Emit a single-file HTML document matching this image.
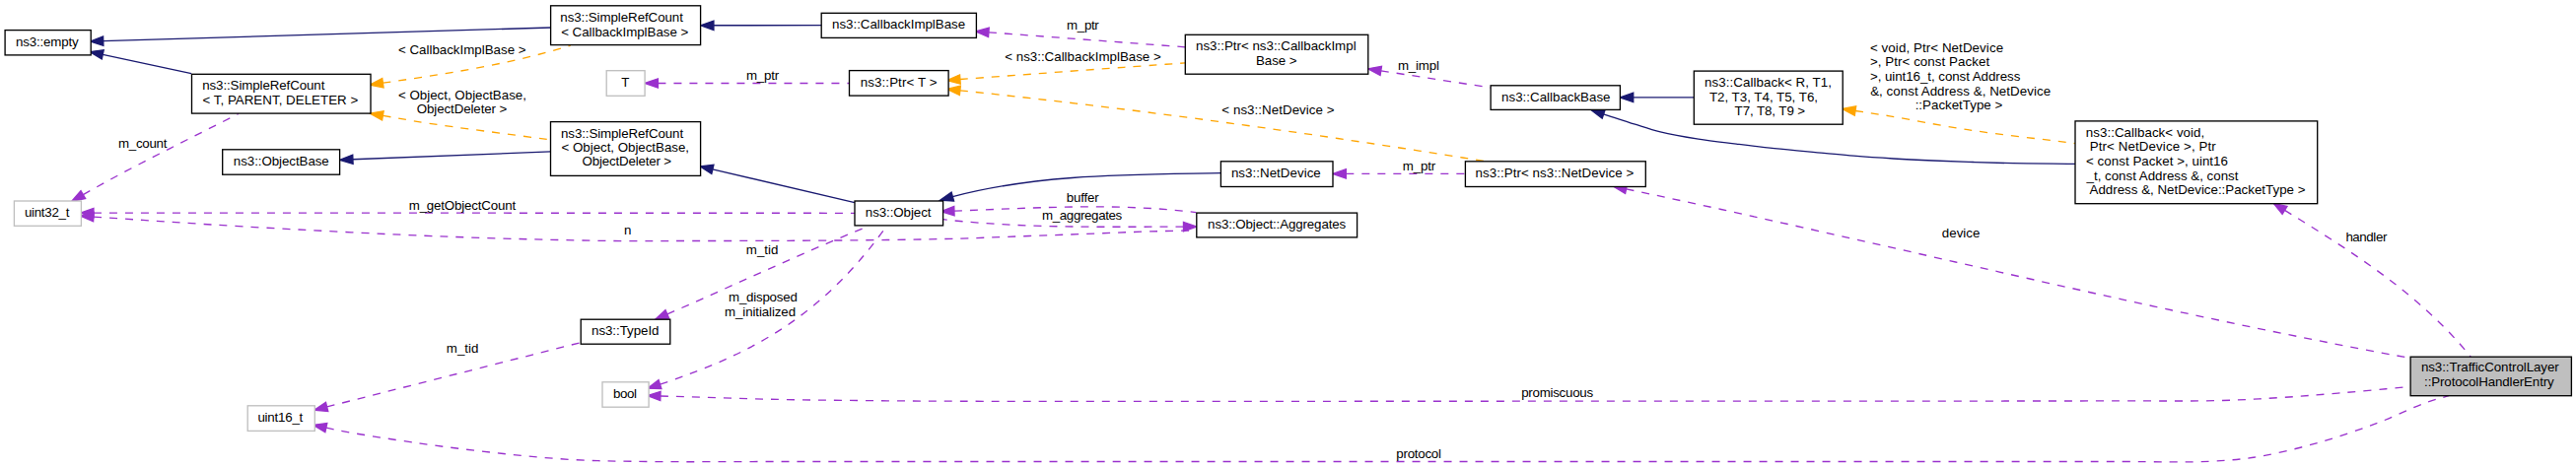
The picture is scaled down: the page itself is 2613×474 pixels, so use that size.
<!DOCTYPE html>
<html><head><meta charset="utf-8"><style>
html,body{margin:0;padding:0;background:#fff;}
svg{display:block;}
text{font-family:"Liberation Sans",sans-serif;font-size:13.333px;fill:#000;white-space:pre;}
</style></head><body>
<svg width="2613" height="474" viewBox="0 0 2613 474">
<rect x="0" y="0" width="2613" height="474" fill="#fff"/>
<path d="M104.73,41.60 L558.60,28.00" fill="none" stroke="#191970" stroke-width="1.333"/>
<polygon points="91.40,42.00 104.59,36.94 104.87,46.27" fill="#191970" stroke="#191970" stroke-width="1.333"/>
<path d="M104.24,55.39 L194.10,74.60" fill="none" stroke="#191970" stroke-width="1.333"/>
<polygon points="91.20,52.60 105.21,50.82 103.26,59.95" fill="#191970" stroke="#191970" stroke-width="1.333"/>
<path d="M723.93,25.78 L833.20,25.60" fill="none" stroke="#191970" stroke-width="1.333"/>
<polygon points="710.60,25.80 723.93,21.11 723.94,30.45" fill="#191970" stroke="#191970" stroke-width="1.333"/>
<path d="M357.92,161.78 L558.50,153.90" fill="none" stroke="#191970" stroke-width="1.333"/>
<polygon points="344.60,162.30 357.74,157.11 358.11,166.44" fill="#191970" stroke="#191970" stroke-width="1.333"/>
<path d="M722.88,171.85 L867.00,205.70" fill="none" stroke="#191970" stroke-width="1.333"/>
<polygon points="709.90,168.80 723.95,167.31 721.81,176.39" fill="#191970" stroke="#191970" stroke-width="1.333"/>
<path d="M966.35,199.63 C1054.88,176.29 1147.58,177.38 1238.40,175.70" fill="none" stroke="#191970" stroke-width="1.333"/>
<polygon points="953.50,203.20 965.10,195.13 967.60,204.13" fill="#191970" stroke="#191970" stroke-width="1.333"/>
<path d="M1656.73,98.90 L1718.30,98.90" fill="none" stroke="#191970" stroke-width="1.333"/>
<polygon points="1643.40,98.90 1656.73,94.23 1656.73,103.57" fill="#191970" stroke="#191970" stroke-width="1.333"/>
<path d="M1626.67,115.76 C1637.28,119.24 1648.44,123.04 1658.50,126.20 C1667.51,129.03 1674.70,131.58 1684.20,133.90 C1695.70,136.70 1709.91,139.16 1722.80,141.20 C1735.61,143.22 1748.45,144.53 1761.30,146.10 C1774.15,147.67 1786.19,149.16 1799.90,150.60 C1815.50,152.24 1835.39,153.92 1850.00,155.30 C1861.36,156.38 1869.47,157.31 1880.30,158.20 C1892.79,159.23 1907.24,160.20 1920.70,161.00 C1934.14,161.80 1947.56,162.42 1961.00,163.00 C1974.46,163.58 1987.93,164.05 2001.40,164.50 C2014.87,164.95 2028.34,165.42 2041.80,165.70 C2055.24,165.98 2070.55,166.08 2082.10,166.20 C2090.80,166.29 2097.37,166.33 2105.00,166.40" fill="none" stroke="#191970" stroke-width="1.333"/>
<polygon points="1614.00,111.60 1628.12,111.32 1625.21,120.19" fill="#191970" stroke="#191970" stroke-width="1.333"/>
<path d="M388.40,84.20 C452.46,74.97 516.69,65.40 578.70,46.20" fill="none" stroke="#ffa500" stroke-width="1.333" stroke-dasharray="8,8"/>
<polygon points="375.20,86.10 387.73,79.58 389.06,88.82" fill="#ffa500" stroke="#ffa500" stroke-width="1.333"/>
<path d="M388.35,117.33 C403.43,119.89 414.74,122.13 433.60,125.00 C464.86,129.76 516.87,136.27 558.50,141.90" fill="none" stroke="#ffa500" stroke-width="1.333" stroke-dasharray="8,8"/>
<polygon points="375.20,115.10 389.13,112.73 387.57,121.93" fill="#ffa500" stroke="#ffa500" stroke-width="1.333"/>
<path d="M973.90,80.52 C1029.26,76.45 1097.94,71.33 1140.00,68.30 C1165.76,66.44 1181.53,65.37 1202.30,63.90" fill="none" stroke="#ffa500" stroke-width="1.333" stroke-dasharray="8,8"/>
<polygon points="960.60,81.50 973.55,75.87 974.24,85.18" fill="#ffa500" stroke="#ffa500" stroke-width="1.333"/>
<path d="M973.86,91.79 C1152.08,110.63 1330.04,135.01 1506.90,163.80" fill="none" stroke="#ffa500" stroke-width="1.333" stroke-dasharray="8,8"/>
<polygon points="960.60,90.40 974.35,87.15 973.37,96.43" fill="#ffa500" stroke="#ffa500" stroke-width="1.333"/>
<path d="M1881.98,112.50 C1893.59,114.27 1902.86,115.52 1916.80,117.80 C1937.87,121.25 1967.44,127.39 1996.00,131.70 C2029.38,136.74 2068.67,140.90 2105.00,145.50" fill="none" stroke="#ffa500" stroke-width="1.333" stroke-dasharray="8,8"/>
<polygon points="1868.80,110.50 1882.68,107.89 1881.28,117.12" fill="#ffa500" stroke="#ffa500" stroke-width="1.333"/>
<path d="M1002.90,32.80 L1202.30,47.80" fill="none" stroke="#9a32cd" stroke-width="1.333" stroke-dasharray="8,8"/>
<polygon points="989.60,31.80 1003.25,28.15 1002.55,37.45" fill="#9a32cd" stroke="#9a32cd" stroke-width="1.333"/>
<path d="M667.43,84.50 L861.50,84.50" fill="none" stroke="#9a32cd" stroke-width="1.333" stroke-dasharray="8,8"/>
<polygon points="654.10,84.50 667.43,79.83 667.43,89.17" fill="#9a32cd" stroke="#9a32cd" stroke-width="1.333"/>
<path d="M1400.78,71.83 L1512.10,89.00" fill="none" stroke="#9a32cd" stroke-width="1.333" stroke-dasharray="8,8"/>
<polygon points="1387.60,69.80 1401.49,67.22 1400.07,76.44" fill="#9a32cd" stroke="#9a32cd" stroke-width="1.333"/>
<path d="M84.33,197.61 C135.75,168.14 189.29,142.42 242.00,115.40" fill="none" stroke="#9a32cd" stroke-width="1.333" stroke-dasharray="8,8"/>
<polygon points="72.80,204.30 81.99,193.57 86.67,201.64" fill="#9a32cd" stroke="#9a32cd" stroke-width="1.333"/>
<path d="M94.93,216.10 L867.00,216.30" fill="none" stroke="#9a32cd" stroke-width="1.333" stroke-dasharray="8,8"/>
<polygon points="81.60,216.10 94.93,211.44 94.93,220.77" fill="#9a32cd" stroke="#9a32cd" stroke-width="1.333"/>
<path d="M94.91,220.06 C146.07,223.37 193.44,226.86 248.40,230.00 C312.10,233.64 389.81,237.75 454.80,240.20 C512.92,242.39 574.80,243.91 620.00,244.50 C651.45,244.91 671.85,244.53 700.00,244.50 C731.48,244.47 766.67,244.47 800.00,244.30 C833.33,244.13 869.03,243.91 900.00,243.50 C926.88,243.14 953.13,242.73 975.30,242.10 C992.84,241.60 1006.69,240.88 1022.40,240.30 C1038.12,239.72 1053.88,239.18 1069.60,238.60 C1085.31,238.02 1101.00,237.40 1116.70,236.80 C1132.40,236.20 1147.86,235.50 1163.80,235.00 C1180.22,234.49 1197.13,234.20 1213.80,233.80" fill="none" stroke="#9a32cd" stroke-width="1.333" stroke-dasharray="8,8"/>
<polygon points="81.60,219.20 95.21,215.40 94.60,224.72" fill="#9a32cd" stroke="#9a32cd" stroke-width="1.333"/>
<path d="M1365.33,176.40 L1486.40,176.40" fill="none" stroke="#9a32cd" stroke-width="1.333" stroke-dasharray="8,8"/>
<polygon points="1352.00,176.40 1365.33,171.73 1365.33,181.07" fill="#9a32cd" stroke="#9a32cd" stroke-width="1.333"/>
<path d="M967.92,214.13 C1049.99,211.06 1131.25,205.60 1213.30,215.60" fill="none" stroke="#9a32cd" stroke-width="1.333" stroke-dasharray="8,8"/>
<polygon points="954.60,214.60 967.76,209.46 968.09,218.79" fill="#9a32cd" stroke="#9a32cd" stroke-width="1.333"/>
<path d="M1200.47,230.10 C1119.43,230.18 1037.07,231.80 956.60,222.70" fill="none" stroke="#9a32cd" stroke-width="1.333" stroke-dasharray="8,8"/>
<polygon points="1213.80,230.10 1200.47,234.76 1200.47,225.43" fill="#9a32cd" stroke="#9a32cd" stroke-width="1.333"/>
<path d="M1649.55,191.83 C1914.74,247.44 2178.63,314.88 2445.00,363.50" fill="none" stroke="#9a32cd" stroke-width="1.333" stroke-dasharray="8,8"/>
<polygon points="1636.50,189.10 1650.51,187.26 1648.60,196.40" fill="#9a32cd" stroke="#9a32cd" stroke-width="1.333"/>
<path d="M2317.55,213.40 C2385.84,255.54 2455.00,298.71 2506.20,362.20" fill="none" stroke="#9a32cd" stroke-width="1.333" stroke-dasharray="8,8"/>
<polygon points="2306.20,206.40 2320.00,209.43 2315.10,217.37" fill="#9a32cd" stroke="#9a32cd" stroke-width="1.333"/>
<path d="M676.84,318.91 C743.17,290.08 809.21,258.76 876.00,231.50" fill="none" stroke="#9a32cd" stroke-width="1.333" stroke-dasharray="8,8"/>
<polygon points="664.60,324.20 674.99,314.63 678.69,323.19" fill="#9a32cd" stroke="#9a32cd" stroke-width="1.333"/>
<path d="M669.49,390.11 C767.54,357.79 834.63,318.54 897.50,232.00" fill="none" stroke="#9a32cd" stroke-width="1.333" stroke-dasharray="8,8"/>
<polygon points="656.80,394.20 668.06,385.67 670.92,394.55" fill="#9a32cd" stroke="#9a32cd" stroke-width="1.333"/>
<path d="M331.62,412.92 L589.20,347.60" fill="none" stroke="#9a32cd" stroke-width="1.333" stroke-dasharray="8,8"/>
<polygon points="318.70,416.20 330.48,408.40 332.77,417.45" fill="#9a32cd" stroke="#9a32cd" stroke-width="1.333"/>
<path d="M669.93,401.98 C709.72,403.12 750.26,404.59 789.30,405.40 C826.89,406.18 864.04,406.48 900.00,406.80 C934.18,407.10 963.30,407.21 1000.00,407.30 C1044.95,407.41 1096.41,407.30 1150.00,407.30 C1211.88,407.30 1283.33,407.32 1350.00,407.30 C1416.67,407.28 1483.33,407.22 1550.00,407.20 C1616.67,407.18 1683.33,407.22 1750.00,407.20 C1816.67,407.18 1883.33,407.15 1950.00,407.10 C2016.67,407.05 2094.67,407.01 2150.00,406.90 C2189.24,406.82 2221.33,407.35 2250.60,406.60 C2273.29,406.02 2290.88,404.95 2311.00,403.70 C2331.14,402.45 2350.28,400.85 2371.40,399.10 C2394.73,397.17 2420.47,394.70 2445.00,392.50" fill="none" stroke="#9a32cd" stroke-width="1.333" stroke-dasharray="8,8"/>
<polygon points="656.60,401.60 670.06,397.32 669.79,406.65" fill="#9a32cd" stroke="#9a32cd" stroke-width="1.333"/>
<path d="M330.84,434.08 C336.83,435.35 340.69,436.40 348.80,437.90 C365.59,441.00 400.58,446.45 426.50,450.10 C452.35,453.74 478.21,457.05 504.10,459.80 C529.94,462.55 555.80,465.15 581.70,466.60 C607.57,468.05 629.91,468.14 659.40,468.50 C698.39,468.98 748.45,468.50 795.20,468.50 C845.11,468.50 895.10,468.50 950.00,468.50 C1012.40,468.50 1083.33,468.50 1150.00,468.50 C1216.67,468.50 1283.33,468.50 1350.00,468.50 C1416.67,468.50 1483.33,468.50 1550.00,468.50 C1616.67,468.50 1683.33,468.50 1750.00,468.50 C1816.67,468.50 1883.33,468.50 1950.00,468.50 C2016.67,468.50 2096.36,468.56 2150.00,468.50 C2186.10,468.46 2214.84,469.56 2240.60,468.30 C2259.84,467.36 2273.47,466.36 2290.90,463.50 C2310.19,460.34 2331.22,455.05 2351.20,449.40 C2371.46,443.67 2392.52,436.47 2411.60,429.30 C2429.27,422.67 2448.43,412.99 2461.90,408.20 C2470.66,405.09 2476.63,403.87 2484.00,401.70" fill="none" stroke="#9a32cd" stroke-width="1.333" stroke-dasharray="8,8"/>
<polygon points="317.80,431.30 331.81,429.51 329.87,438.64" fill="#9a32cd" stroke="#9a32cd" stroke-width="1.333"/>
<rect x="5.10" y="30.60" width="87.10" height="25.30" fill="#fff" stroke="#000" stroke-width="1.333"/>
<rect x="558.60" y="5.80" width="152.00" height="39.80" fill="#fff" stroke="#000" stroke-width="1.333"/>
<rect x="833.20" y="13.30" width="157.20" height="25.10" fill="#fff" stroke="#000" stroke-width="1.333"/>
<rect x="1202.30" y="35.30" width="185.50" height="39.90" fill="#fff" stroke="#000" stroke-width="1.333"/>
<rect x="194.50" y="75.30" width="181.50" height="39.80" fill="#fff" stroke="#000" stroke-width="1.333"/>
<rect x="615.20" y="71.70" width="38.90" height="25.60" fill="#fff" stroke="#bfbfbf" stroke-width="1.333"/>
<rect x="861.50" y="71.60" width="100.60" height="25.50" fill="#fff" stroke="#000" stroke-width="1.333"/>
<rect x="1512.10" y="86.80" width="131.30" height="24.60" fill="#fff" stroke="#000" stroke-width="1.333"/>
<rect x="1718.30" y="72.10" width="150.90" height="54.10" fill="#fff" stroke="#000" stroke-width="1.333"/>
<rect x="225.70" y="151.80" width="118.90" height="25.40" fill="#fff" stroke="#000" stroke-width="1.333"/>
<rect x="558.50" y="123.60" width="152.10" height="54.80" fill="#fff" stroke="#000" stroke-width="1.333"/>
<rect x="14.40" y="204.00" width="68.00" height="25.30" fill="#fff" stroke="#bfbfbf" stroke-width="1.333"/>
<rect x="867.00" y="204.00" width="89.60" height="24.90" fill="#fff" stroke="#000" stroke-width="1.333"/>
<rect x="1238.40" y="163.80" width="113.60" height="25.70" fill="#fff" stroke="#000" stroke-width="1.333"/>
<rect x="1486.40" y="163.80" width="182.90" height="25.70" fill="#fff" stroke="#000" stroke-width="1.333"/>
<rect x="2105.00" y="122.90" width="245.70" height="83.80" fill="#fff" stroke="#000" stroke-width="1.333"/>
<rect x="1213.80" y="216.10" width="162.80" height="24.80" fill="#fff" stroke="#000" stroke-width="1.333"/>
<rect x="589.20" y="324.20" width="90.60" height="25.00" fill="#fff" stroke="#000" stroke-width="1.333"/>
<rect x="611.00" y="387.80" width="47.10" height="25.40" fill="#fff" stroke="#bfbfbf" stroke-width="1.333"/>
<rect x="251.20" y="411.80" width="68.10" height="25.60" fill="#fff" stroke="#bfbfbf" stroke-width="1.333"/>
<rect x="2445.10" y="362.20" width="163.30" height="39.50" fill="#bfbfbf" stroke="#000" stroke-width="1.333"/>
<text x="15.91" y="46.50" textLength="63.81" lengthAdjust="spacing">ns3::empty</text>
<text x="568.31" y="21.60" textLength="124.58" lengthAdjust="spacing">ns3::SimpleRefCount</text>
<text x="569.14" y="36.90" textLength="129.11" lengthAdjust="spacing">&lt; CallbackImplBase &gt;</text>
<text x="844.06" y="29.30" textLength="135.03" lengthAdjust="spacing">ns3::CallbackImplBase</text>
<text x="1213.01" y="51.00">ns3::Ptr&lt; ns3::CallbackImpl</text>
<text x="1274.01" y="65.60" textLength="41.44" lengthAdjust="spacing">Base &gt;</text>
<text x="205.21" y="91.10" textLength="124.18" lengthAdjust="spacing">ns3::SimpleRefCount</text>
<text x="205.44" y="106.00" textLength="157.81" lengthAdjust="spacing">&lt; T, PARENT, DELETER &gt;</text>
<text x="630.20" y="87.90">T</text>
<text x="872.81" y="87.90" textLength="77.64" lengthAdjust="spacing">ns3::Ptr&lt; T &gt;</text>
<text x="1523.11" y="102.60">ns3::CallbackBase</text>
<text x="1729.01" y="87.80" textLength="128.88" lengthAdjust="spacing">ns3::Callback&lt; R, T1,</text>
<text x="1733.90" y="102.70" textLength="110.10" lengthAdjust="spacing">T2, T3, T4, T5, T6,</text>
<text x="1759.60" y="116.60" textLength="71.55" lengthAdjust="spacing">T7, T8, T9 &gt;</text>
<text x="236.81" y="167.50" textLength="96.98" lengthAdjust="spacing">ns3::ObjectBase</text>
<text x="569.01" y="139.50" textLength="124.08" lengthAdjust="spacing">ns3::SimpleRefCount</text>
<text x="569.54" y="154.10" textLength="129.46" lengthAdjust="spacing">&lt; Object, ObjectBase,</text>
<text x="590.47" y="168.30" textLength="90.68" lengthAdjust="spacing">ObjectDeleter &gt;</text>
<text x="24.93" y="219.50" textLength="45.46" lengthAdjust="spacing">uint32_t</text>
<text x="877.81" y="220.00" textLength="66.68" lengthAdjust="spacing">ns3::Object</text>
<text x="1248.91" y="179.60" textLength="90.88" lengthAdjust="spacing">ns3::NetDevice</text>
<text x="1496.61" y="179.60" textLength="160.64" lengthAdjust="spacing">ns3::Ptr&lt; ns3::NetDevice &gt;</text>
<text x="2115.81" y="138.70" textLength="120.38" lengthAdjust="spacing">ns3::Callback&lt; void,</text>
<text x="2115.90" y="152.60" textLength="131.82" lengthAdjust="spacing"> Ptr&lt; NetDevice &gt;, Ptr</text>
<text x="2116.04" y="167.60" textLength="143.94" lengthAdjust="spacing">&lt; const Packet &gt;, uint16</text>
<text x="2116.60" y="182.60" textLength="153.80" lengthAdjust="spacing">_t, const Address &amp;, const</text>
<text x="2116.57" y="196.70" textLength="221.88" lengthAdjust="spacing"> Address &amp;, NetDevice::PacketType &gt;</text>
<text x="1225.11" y="231.60" textLength="140.07" lengthAdjust="spacing">ns3::Object::Aggregates</text>
<text x="600.01" y="339.70" textLength="68.44" lengthAdjust="spacing">ns3::TypeId</text>
<text x="621.94" y="403.80" textLength="24.05" lengthAdjust="spacing">bool</text>
<text x="261.43" y="427.80" textLength="45.86" lengthAdjust="spacing">uint16_t</text>
<text x="2455.91" y="377.20" textLength="139.81" lengthAdjust="spacing">ns3::TrafficControlLayer</text>
<text x="2459.08" y="392.00" textLength="131.64" lengthAdjust="spacing">::ProtocolHandlerEntry</text>
<text x="403.94" y="54.80">&lt; CallbackImplBase &gt;</text>
<text x="403.94" y="101.10">&lt; Object, ObjectBase,</text>
<text x="422.67" y="115.00" textLength="91.68" lengthAdjust="spacing">ObjectDeleter &gt;</text>
<text x="1082.01" y="29.90" textLength="32.81" lengthAdjust="spacing">m_ptr</text>
<text x="757.01" y="80.80" textLength="33.11" lengthAdjust="spacing">m_ptr</text>
<text x="1019.24" y="61.50">&lt; ns3::CallbackImplBase &gt;</text>
<text x="1417.91" y="70.50" textLength="41.98" lengthAdjust="spacing">m_impl</text>
<text x="1239.34" y="116.40" textLength="114.21" lengthAdjust="spacing">&lt; ns3::NetDevice &gt;</text>
<text x="1896.94" y="52.70" textLength="135.15" lengthAdjust="spacing">&lt; void, Ptr&lt; NetDevice</text>
<text x="1896.94" y="66.60" textLength="121.16" lengthAdjust="spacing">&gt;, Ptr&lt; const Packet</text>
<text x="1896.94" y="81.60" textLength="152.44" lengthAdjust="spacing">&gt;, uint16_t, const Address</text>
<text x="1897.13" y="96.50" textLength="182.96" lengthAdjust="spacing">&amp;, const Address &amp;, NetDevice</text>
<text x="1942.68" y="110.70">::PacketType &gt;</text>
<text x="120.01" y="149.70" textLength="49.38" lengthAdjust="spacing">m_count</text>
<text x="414.71" y="212.80" textLength="108.38" lengthAdjust="spacing">m_getObjectCount</text>
<text x="632.91" y="237.60">n</text>
<text x="1422.81" y="172.80" textLength="33.31" lengthAdjust="spacing">m_ptr</text>
<text x="1081.74" y="205.30" textLength="32.98" lengthAdjust="spacing">buffer</text>
<text x="1057.01" y="222.60" textLength="81.27" lengthAdjust="spacing">m_aggregates</text>
<text x="1969.84" y="240.80">device</text>
<text x="2379.38" y="244.60" textLength="41.95" lengthAdjust="spacing">handler</text>
<text x="756.81" y="257.70">m_tid</text>
<text x="739.01" y="305.90" textLength="69.84" lengthAdjust="spacing">m_disposed</text>
<text x="735.01" y="321.00" textLength="72.04" lengthAdjust="spacing">m_initialized</text>
<text x="452.81" y="357.80">m_tid</text>
<text x="1543.14" y="402.70" textLength="73.04" lengthAdjust="spacing">promiscuous</text>
<text x="1416.34" y="464.60" textLength="45.55" lengthAdjust="spacing">protocol</text>
</svg></body></html>
